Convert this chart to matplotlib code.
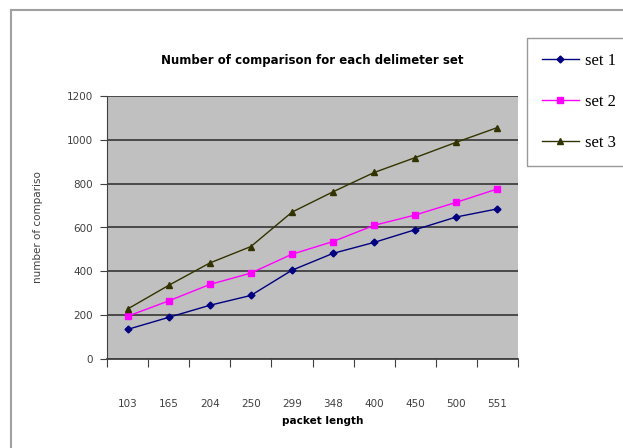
import numpy as np
import matplotlib.pyplot as plt
from matplotlib.lines import Line2D

# data
packet_length = ["103", "165", "204", "250", "299", "348", "400", "450", "500", "551"]
set1 = [135, 190, 245, 290, 405, 482, 532, 590, 648, 685]
set2 = [195, 265, 340, 392, 478, 536, 610, 657, 715, 776]
set3 = [228, 336, 438, 513, 670, 763, 851, 919, 989, 1056]
y_ticks = [0, 200, 400, 600, 800, 1000, 1200]

W, H = 623, 448
fig = plt.figure(figsize=(W / 100, H / 100), dpi=100)
fig.patch.set_facecolor("white")

# outer chart frame (left and top edges visible only)
fig.lines.append(Line2D([11 / W, 11 / W], [0, 1 - 10 / H], transform=fig.transFigure,
                        color="#a0a0a0", lw=1.5))
fig.lines.append(Line2D([11 / W, 1], [1 - 10 / H, 1 - 10 / H], transform=fig.transFigure,
                        color="#a0a0a0", lw=1.5))

ax = fig.add_axes([107 / W, 1 - 359 / H, 411 / W, 263 / H])
ax.set_facecolor("#c0c0c0")

x = np.arange(len(packet_length))
ax.plot(x, set1, color="#000080", marker="D", ms=3.5, lw=1, label="set 1")
ax.plot(x, set2, color="#ff00ff", marker="s", ms=4.5, lw=1, label="set 2")
ax.plot(x, set3, color="#333300", marker="^", ms=4, lw=1, label="set 3")

ax.set_xlim(-0.5, len(packet_length) - 0.5)
ax.set_ylim(0, 1200)
ax.set_yticks(y_ticks)
ax.yaxis.grid(True, color="#404040", lw=1.3)
ax.set_axisbelow(True)
ax.tick_params(axis="y", direction="out", length=5, color="#404040", labelsize=7.5,
               labelcolor="#404040", pad=5)

# tick marks at category edges, labels centred
ax.set_xticks(np.arange(-0.5, len(packet_length), 1.0))
ax.set_xticklabels([])
ax.set_xticks(x, minor=True)
ax.set_xticklabels(packet_length, minor=True)
ax.tick_params(axis="x", which="major", direction="out", length=6, color="#404040")
ax.tick_params(axis="x", which="minor", length=0, labelsize=7.5, labelcolor="#404040", pad=29)

for side in ["top", "right"]:
    ax.spines[side].set_visible(False)
ax.spines["left"].set_color("#404040")
ax.spines["bottom"].set_color("#404040")
ax.spines["bottom"].set_linewidth(1.3)

ax.set_title("Number of comparison for each delimeter set", fontsize=8.5,
             fontweight="bold", pad=23)
ax.set_xlabel("packet length", fontsize=7.5, fontweight="bold")
ax.xaxis.set_label_coords(0.525, -61.5 / 263)
ax.xaxis.label.set_va("center")
ax.set_ylabel("number of compariso", fontsize=7.5, color="#404040", labelpad=17)

leg = fig.legend(loc="upper left", bbox_to_anchor=(527 / W, 1 - 38 / H), frameon=True,
                 fancybox=False, edgecolor="#808080", handlelength=2.2,
                 handletextpad=0.4, labelspacing=1.5, borderpad=0.9, borderaxespad=0,
                 prop={"family": "Liberation Serif", "size": 12})
leg.get_frame().set_linewidth(1)

plt.savefig("out.png", dpi=100)
